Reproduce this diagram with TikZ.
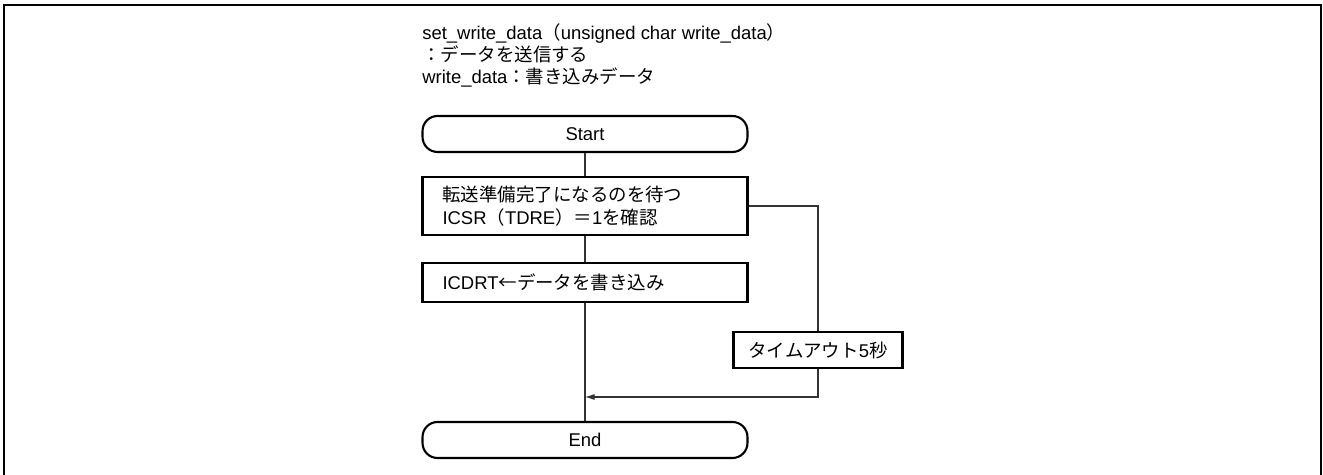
\documentclass[tikz,border=0pt]{standalone}
\usepackage{fontspec}
\setmainfont{Liberation Sans}
\newfontfamily\jp{Noto Sans CJK JP}
\usetikzlibrary{arrows.meta}

\begin{document}
\begin{tikzpicture}[x=0.02cm,y=-0.02cm,
        font=\fontsize{10.5}{13.5}\selectfont,
        term/.style={draw,line width=1.2pt,rounded corners=0.3cm,minimum width=6.5cm,minimum height=0.72cm,inner sep=0pt},
        proc/.style={draw,line width=1.2pt,text width=5.7cm,inner xsep=0.4cm,inner ysep=0pt,align=left},
        flow/.style={line width=0.6pt,draw=black!80}]
        \useasboundingbox (0,0) rectangle (1323,475);
        \draw [line width=1.6pt] (4,480)--(4,5)--(1321,5)--(1321,480);  %frame

        %title
        \node [anchor=west,align=left,inner sep=0pt,font=\fontsize{10.5}{12.5}\selectfont] (title) at (422,55)
            {set\_write\_data{\jp （}unsigned char write\_data{\jp ）}\\
             {\jp ：データを送信する}\\
             write\_data{\jp ：書き込みデータ}};

        %Start
        \node [term] (start) at (585,134) {Start};

        %wait for TDRE
        \node [proc,minimum height=1.16cm] (wait) at (585,206)
            {{\jp 転送準備完了になるのを待つ}\\
             ICSR{\jp （}TDRE{\jp ）＝}1{\jp を確認}};

        %write ICDRT
        \node [proc,minimum height=0.78cm] (write) at (585,282.5) {ICDRT{\jp ←データを書き込み}};

        %timeout
        \node [draw,line width=1.2pt,minimum width=3.38cm,minimum height=0.72cm] (timeout) at (818,350)
            {{\jp タイムアウト}5{\jp 秒}};

        %End
        \node [term] (end) at (585,440) {End};

        \coordinate (join) at (585,397);
        \draw [flow] (start)--(wait);
        \draw [flow] (wait)--(write);
        \draw [flow] (write)--(end);
        \draw [flow] (wait.east) -| (timeout.north);
        \draw [flow,-{Latex[length=5.5pt,width=3.5pt]}] (timeout.south) |- (join);
\end{tikzpicture}
\end{document}
